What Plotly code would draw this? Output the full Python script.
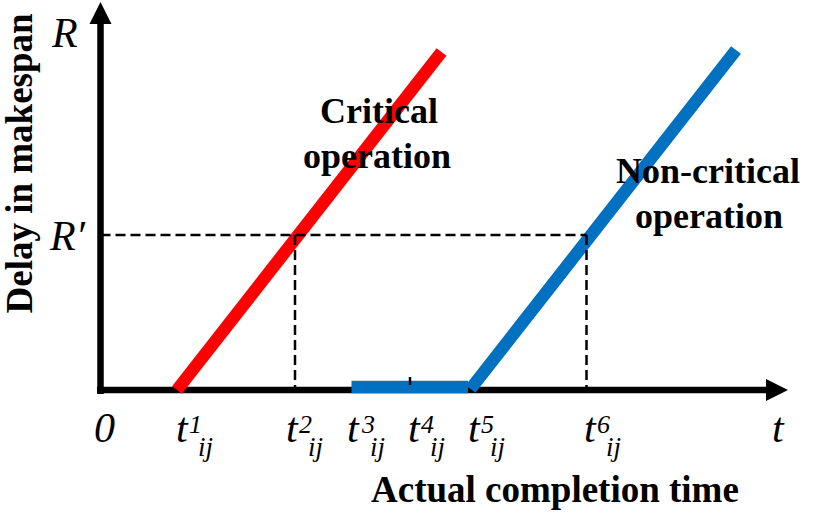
import plotly.graph_objects as go

# ---------------- data (schematic units: time on x, delay on y) ----------------
T_SUPERSCRIPTS = ["1", "2", "3", "4", "5", "6"]
T_VALUES = [76.5, 194.5, 251.0, 309.5, 368.5, 486.0]
R_PRIME = 155.0
R_TOP = 339.0

CRIT_T = [76.5, 341.0]
CRIT_DELAY = [0.0, 338.0]
NONCRIT_FLAT_T = [251.0, 367.5]
NONCRIT_FLAT_DELAY = [3.0, 3.0]
NONCRIT_RISE_T = [370.0, 635.5]
NONCRIT_RISE_DELAY = [1.0, 340.0]

X_AXIS_END = 689.5
Y_AXIS_END = 390.0

# ---------------- styling ----------------
W, H = 827, 516
X_RANGE = [-100.5, 726.5]
Y_RANGE = [-126.0, 390.0]
SERIF = '"Liberation Serif", "Times New Roman", serif'
RED = "#FF0000"
BLUE = "#0070C0"
LABEL_DX = [-7, -15, -10, -8, -7, -8.5]   # pixel offset of t-glyph left edge from its tick


def py(pixel_y):
    return 1 - pixel_y / H


def px(pixel_x):
    return pixel_x / W


def mid_from_baseline(baseline, fs):
    # Liberation Serif: ascent .891, descent .216 -> middle of bbox
    return baseline - 0.3375 * fs


fig = go.Figure()

fig.add_trace(go.Scatter(x=CRIT_T, y=CRIT_DELAY, mode="lines",
                         line=dict(color=RED, width=12.5), hoverinfo="skip"))
fig.add_trace(go.Scatter(x=NONCRIT_FLAT_T, y=NONCRIT_FLAT_DELAY, mode="lines",
                         line=dict(color=BLUE, width=12.5), hoverinfo="skip"))
fig.add_trace(go.Scatter(x=NONCRIT_RISE_T, y=NONCRIT_RISE_DELAY, mode="lines",
                         line=dict(color=BLUE, width=12.5), hoverinfo="skip"))

shapes = []
# axes lines (below traces)
shapes.append(dict(type="line", xref="x", yref="y", x0=-3.5, y0=0, x1=X_AXIS_END - 16, y1=0,
                   line=dict(color="black", width=6.5), layer="below"))
shapes.append(dict(type="line", xref="x", yref="y", x0=0, y0=-4, x1=0, y1=Y_AXIS_END - 16,
                   line=dict(color="black", width=6.5), layer="below"))
# dashed guides
dash = "10px,5px"
shapes.append(dict(type="line", xref="x", yref="y", x0=0, y0=R_PRIME, x1=T_VALUES[5], y1=R_PRIME,
                   line=dict(color="black", width=2.5, dash=dash)))
for tv in (T_VALUES[1], T_VALUES[5]):
    shapes.append(dict(type="line", xref="x", yref="y", x0=tv, y0=R_PRIME, x1=tv, y1=0,
                       line=dict(color="black", width=2.5, dash=dash)))
# small tick at t4
shapes.append(dict(type="line", xref="x", yref="y", x0=T_VALUES[3], y0=5, x1=T_VALUES[3], y1=13,
                   line=dict(color="black", width=2.5)))

ann = []
# arrow heads
ann.append(dict(x=X_AXIS_END, y=0, ax=X_AXIS_END - 30, ay=0, xref="x", yref="y",
                axref="x", ayref="y", text="", showarrow=True, arrowhead=2,
                arrowwidth=2, arrowsize=2.2, standoff=2, arrowcolor="black"))
ann.append(dict(x=0, y=Y_AXIS_END, ax=0, ay=Y_AXIS_END - 30, xref="x", yref="y",
                axref="x", ayref="y", text="", showarrow=True, arrowhead=2,
                arrowwidth=2, arrowsize=2.2, standoff=2, arrowcolor="black"))


def text(x, y, s, fs, bold=False, italic=False, xanchor="center", xref="paper",
         xshift=0, angle=0):
    if italic:
        s = "<i>" + s + "</i>"
    if bold:
        s = "<b>" + s + "</b>"
    return dict(x=x, y=y, xref=xref, yref="paper", text=s, showarrow=False,
                xanchor=xanchor, yanchor="middle", xshift=xshift, textangle=angle,
                borderpad=0, borderwidth=0,
                font=dict(family=SERIF, size=fs, color="black"))


T_FS, SUP_FS, SUB_FS = 42, 26, 27
for tv, sup, dx in zip(T_VALUES, T_SUPERSCRIPTS, LABEL_DX):
    ann.append(text(tv, py(mid_from_baseline(442, T_FS)), "t", T_FS, italic=True,
                    xanchor="center", xref="x", xshift=dx + 12))
    ann.append(text(tv, py(mid_from_baseline(433, SUP_FS)), sup, SUP_FS, italic=True,
                    xanchor="left", xref="x", xshift=dx + 19))
    ann.append(text(tv, py(mid_from_baseline(456, SUB_FS)), "ij", SUB_FS, italic=True,
                    xanchor="left", xref="x", xshift=dx + 28))

ann.append(text(px(104), py(mid_from_baseline(442, T_FS)), "0", T_FS, italic=True))
ann.append(text(px(778), py(mid_from_baseline(442, T_FS)), "t", T_FS, italic=True))
ann.append(text(px(64), py(mid_from_baseline(47, T_FS)), "R", T_FS, italic=True))
ann.append(text(px(67), py(mid_from_baseline(250, T_FS)), "R\u2032", T_FS, italic=True))

ann.append(text(px(555), py(mid_from_baseline(502, 37)), "Actual completion time", 37, bold=True))
ann.append(text(px(18.5), py(163), "Delay in makespan", 37, bold=True, angle=-90))
ann.append(text(px(378.5), py(mid_from_baseline(123, 36)), "Critical", 36, bold=True))
ann.append(text(px(376.5), py(mid_from_baseline(168, 36)), "operation", 36, bold=True))
ann.append(text(px(707.5), py(mid_from_baseline(183, 36)), "Non-critical", 36, bold=True))
ann.append(text(px(708.5), py(mid_from_baseline(228, 36)), "operation", 36, bold=True))

fig.update_layout(
    width=W, height=H, margin=dict(l=0, r=0, t=0, b=0),
    paper_bgcolor="white", plot_bgcolor="white", showlegend=False,
    xaxis=dict(range=X_RANGE, visible=False, fixedrange=True),
    yaxis=dict(range=Y_RANGE, visible=False, fixedrange=True),
    shapes=shapes, annotations=ann,
)

fig.write_html("out.html", config={"displayModeBar": False},
               post_script="document.body.style.margin='0px';")
